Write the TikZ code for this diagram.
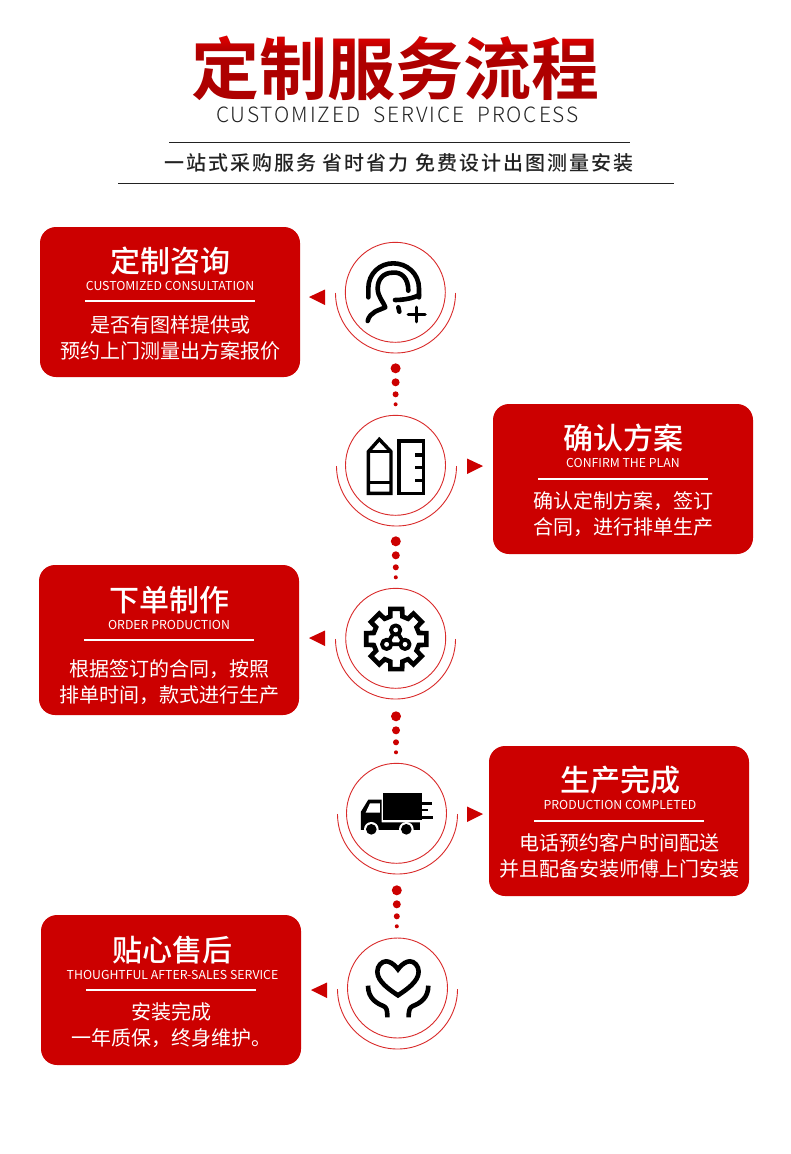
\documentclass[tikz,border=0pt]{standalone}
\usepackage{fontspec}
\usetikzlibrary{positioning, calc, shadings}
\setmainfont{Noto Sans CJK SC}
\newfontfamily\titlefont{Noto Sans CJK SC Bold}
\newfontfamily\lightfont[LetterSpace=9]{Noto Sans CJK SC Light}
\newfontfamily\subfont[LetterSpace=10]{Noto Sans CJK SC Medium}
\newfontfamily\mediumfont{Noto Sans CJK SC Medium}
\definecolor{brandred}{HTML}{CC0000}
\definecolor{ringred}{HTML}{D92B2B}
\definecolor{inkgray}{HTML}{222222}
\definecolor{titletop}{HTML}{F00000}
\definecolor{titlelow}{HTML}{AE0000}
\tikzset{
  card/.style={rectangle, rounded corners=16pt, minimum width=260pt, minimum height=150pt, fill=brandred, inner sep=0pt},
  cardtitle/.style={text=white, inner sep=0pt, font=\fontsize{30}{30}\mediumfont},
  cardeng/.style={text=white, inner sep=0pt, font=\fontsize{12.3}{12.3}\selectfont},
  cardbody/.style={text=white, inner sep=0pt, align=center, font=\fontsize{20}{26}\selectfont},
  cardrule/.style={draw=white, line width=1.5pt},
  ring/.style={circle, minimum size=100pt, inner sep=0pt, draw=ringred, line width=0.9pt},
  halo/.style={draw=ringred, line width=0.9pt},
  icon/.style={line width=4.6pt, draw=black, line cap=round, line join=round},
  squareicon/.style={line width=3.4pt, draw=black, line cap=butt, line join=miter},
  headrule/.style={draw=inkgray, line width=1pt}
}

\begin{document}
\begin{tikzpicture}[x=1pt, y=-1pt]
  \useasboundingbox (0,0) rectangle (790,1154);
  \fill[white] (0,0) rectangle (790,1154);

  % heading
  \node (maintitle) [inner sep=0pt, text=titlelow, font=\fontsize{68}{68}\titlefont] at (395,68) {定制服务流程};
  \shade [blend mode=lighten, top color=titletop, bottom color=black] (185,32) rectangle (605,104);
  \node (engtitle) [inner sep=0pt, text=inkgray, font=\fontsize{21}{21}\lightfont, below=47pt of maintitle.center, anchor=center, xshift=2.5pt] {CUSTOMIZED\ \ SERVICE\ \ PROCESS};
  \node (subtitle) [inner sep=0pt, text=inkgray, font=\fontsize{20}{20}\subfont] at (398.5,163) {一站式采购服务 省时省力 免费设计出图测量安装};
  \draw [headrule] (169,142) -- (630,142);
  \draw [headrule] (118,183) -- (674,183);

  % rings
  \node (consulticon) [ring] at (395.3,292.3) {};
  \node (planicon) [ring] at (395.5,465.3) {};
  \node (makeicon) [ring] at (395.7,638.3) {};
  \node (truckicon) [ring] at (396.5,813.3) {};
  \node (careicon) [ring] at (397.5,988) {};
  \draw [halo] (335.5,293) arc[start angle=180, end angle=360, radius=60pt];
  \draw [halo] (336.5,466) arc[start angle=180, end angle=360, radius=60pt];
  \draw [halo] (335.5,639) arc[start angle=180, end angle=360, radius=60pt];
  \draw [halo] (337.5,814) arc[start angle=180, end angle=360, radius=60pt];
  \draw [halo] (337.5,989) arc[start angle=180, end angle=360, radius=60pt];

  % dots between the rings
  \foreach \from/\dd in {consulticon/0, planicon/0, makeicon/2, truckicon/1} {
    \foreach \dy/\dr in {76/5, 90/4, 102/3, 112/2} {
      \fill [brandred] ($(\from)+(0.3,\dy+\dd)$) circle[radius=\dr pt];
    }
  }

  % pointers
  \fill [brandred] (309,297) -- (325,289.5) -- (325,305) -- cycle;
  \fill [brandred] (483,466) -- (467,458.5) -- (467,474) -- cycle;
  \fill [brandred] (309,638) -- (325,630.5) -- (325,646) -- cycle;
  \fill [brandred] (483,814) -- (467,806.5) -- (467,822) -- cycle;
  \fill [brandred] (311,990) -- (327,982.5) -- (327,998) -- cycle;

  % cards
  \node (consult) [card] at (170,302) {};
  \node (consulttitle) [cardtitle, below=34pt of consult.north, anchor=center] {定制咨询};
  \node (consulteng) [cardeng, below=59pt of consult.north, anchor=center] {CUSTOMIZED CONSULTATION};
  \node (consultbody) [cardbody, below=111pt of consult.north, anchor=center] {是否有图样提供或\\预约上门测量出方案报价};
  \draw [cardrule] ($(consult.north)+(-85,74)$) -- ($(consult.north)+(85,74)$);

  \node (plan) [card] at (623,479) {};
  \node (plantitle) [cardtitle, below=34pt of plan.north, anchor=center] {确认方案};
  \node (planeng) [cardeng, below=59pt of plan.north, anchor=center] {CONFIRM THE PLAN};
  \node (planbody) [cardbody, below=110pt of plan.north, anchor=center] {确认定制方案，签订\\合同，进行排单生产};
  \draw [cardrule] ($(plan.north)+(-85,75)$) -- ($(plan.north)+(85,75)$);

  \node (make) [card] at (169,640) {};
  \node (maketitle) [cardtitle, below=35pt of make.north, anchor=center] {下单制作};
  \node (makeeng) [cardeng, below=60pt of make.north, anchor=center] {ORDER PRODUCTION};
  \node (makebody) [cardbody, below=117pt of make.north, anchor=center] {根据签订的合同，按照\\排单时间，款式进行生产};
  \draw [cardrule] ($(make.north)+(-85,75)$) -- ($(make.north)+(85,75)$);

  \node (done) [card] at (619,821) {};
  \node (donetitle) [cardtitle, below=34pt of done.north, anchor=center, xshift=1pt] {生产完成};
  \node (doneeng) [cardeng, below=59pt of done.north, anchor=center, xshift=1pt] {PRODUCTION COMPLETED};
  \node (donebody) [cardbody, below=110pt of done.north, anchor=center] {电话预约客户时间配送\\并且配备安装师傅上门安装};
  \draw [cardrule] ($(done.north)+(-85,75)$) -- ($(done.north)+(85,75)$);

  \node (after) [card] at (171,990) {};
  \node (aftertitle) [cardtitle, below=35pt of after.north, anchor=center, xshift=1.5pt] {贴心售后};
  \node (aftereng) [cardeng, below=60pt of after.north, anchor=center, xshift=1.5pt] {THOUGHTFUL AFTER-SALES SERVICE};
  \node (afterbody) [cardbody, below=110pt of after.north, anchor=center] {安装完成\\一年质保，终身维护。};
  \draw [cardrule] ($(after.north)+(-85,75)$) -- ($(after.north)+(85,75)$);

  % headset icon
  \begin{scope}[shift={(300,220)}, x=0.3333pt, y=-0.3333pt]
    \draw [icon] (205,232) -- (205,205) .. controls (205,160) and (240,130) .. (280,130) .. controls (320,130) and (357,160) .. (357,205) -- (357,232);
    \draw [icon] (325,212) .. controls (325,175) and (305,155) .. (278,158) .. controls (250,158) and (233,178) .. (233,205) .. controls (233,230) and (250,245) .. (256,262) .. controls (235,272) and (210,275) .. (203,303);
    \draw [icon] (285,240) .. controls (310,240) and (340,235) .. (357,225);
    \draw [icon] (295,262) -- (298,275);
    \draw [icon, line width=3.6pt] (350,262) -- (350,305);
    \draw [icon, line width=3.6pt] (325,283) -- (375,283);
  \end{scope}

  % pencil and ruler icon
  \begin{scope}[shift={(300,220)}, x=0.3333pt, y=-0.3333pt]
    \draw [squareicon] (205,820) -- (205,695) -- (238,658) -- (273,695) -- (273,820) -- cycle;
    \draw [squareicon] (205,695) -- (273,695);
    \draw [squareicon] (205,788) -- (273,788);
    \draw [squareicon] (297,663) rectangle (370,820);
    \draw [squareicon] (370,705) -- (345,705);
    \draw [squareicon] (370,743) -- (345,743);
    \draw [squareicon] (370,782) -- (345,782);
  \end{scope}

  % gear icon
  \begin{scope}[shift={(300,570)}, x=0.3333pt, y=-0.3333pt]
    \begin{scope}[shift={(289,207)}]
      \draw [icon, line width=4.6pt, line join=miter] (-15:70) \foreach \a in {0,45,...,315} { -- (\a-15:70) -- (\a-11:92) -- (\a+11:92) -- (\a+15:70) } -- cycle;
    \end{scope}
    \draw [icon, line width=3.8pt] (287,180) -- (260,223) -- (315,223) -- cycle;
    \fill [white] (287,180) circle[radius=8];
    \fill [white] (260,223) circle[radius=8];
    \fill [white] (315,223) circle[radius=8];
    \fill [white] (287,209) circle[radius=5];
    \draw [icon, line width=3.8pt] (287,180) circle[radius=14];
    \draw [icon, line width=3.8pt] (260,223) circle[radius=14];
    \draw [icon, line width=3.8pt] (315,223) circle[radius=14];
  \end{scope}

  % truck icon
  \begin{scope}[shift={(300,570)}, x=0.3333pt, y=-0.3333pt]
    \fill (250,670) rectangle (365,750);
    \fill (365,696) rectangle (397,705);
    \fill (365,716) rectangle (385,724);
    \fill (365,739) rectangle (400,746);
    \fill (183,780) -- (183,725) -- (205,689) -- (245,689) -- (245,757) -- (360,757) -- (360,780) -- cycle;
    \fill [white] (197,728) -- (210,700) -- (240,700) -- (240,728) -- cycle;
    \fill [white] (214,778) circle[radius=22];
    \fill [white] (319,778) circle[radius=22];
    \fill (214,778) circle[radius=16];
    \fill (319,778) circle[radius=16];
  \end{scope}

  % heart icon
  \begin{scope}[shift={(300,870)}, x=0.3333pt, y=-0.3333pt]
    \draw [icon, line join=miter] (294,298) .. controls (280,278) and (265,274) .. (258,274) .. controls (245,274) and (232,288) .. (232,305) .. controls (232,335) and (270,360) .. (294,376) .. controls (318,360) and (356,335) .. (356,305) .. controls (356,288) and (343,274) .. (330,274) .. controls (323,274) and (308,278) .. (294,298) -- cycle;
    \draw [icon, line cap=butt] (204,347) .. controls (204,385) and (230,400) .. (250,408) .. controls (260,412) and (262,420) .. (262,442);
    \draw [icon, line cap=butt] (385,347) .. controls (385,385) and (359,400) .. (339,408) .. controls (329,412) and (326,420) .. (326,442);
  \end{scope}
\end{tikzpicture}
\end{document}
